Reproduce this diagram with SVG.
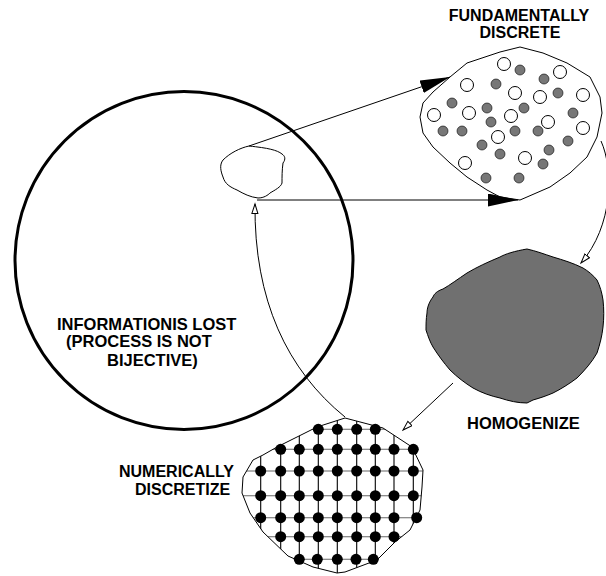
<svg xmlns="http://www.w3.org/2000/svg" width="606" height="576" viewBox="0 0 606 576">
<style>
  .lbl { font-family: "Liberation Sans", Arial, Helvetica, sans-serif; font-weight: bold; font-size: 16px; fill: #000; }
  .outline { fill: none; stroke: #000; stroke-width: 1; stroke-linejoin: round; }
  .conn { fill: none; stroke: #000; stroke-width: 1; }
  .open { fill: #fff; stroke: #000; stroke-width: 1; }
  .gray { fill: #777; stroke: #000; stroke-width: 0.6; }
  .gdot { fill: #000; }
  .vline { stroke: #000; stroke-width: 1.1; }
  .hline { stroke: #666; stroke-width: 1.1; }
</style>
<defs>
  <marker id="bigHead" markerUnits="userSpaceOnUse" markerWidth="30" markerHeight="14" refX="30" refY="6.5" orient="auto">
    <path d="M0,0 L30,6.5 L0,13 Z" fill="#000"/>
  </marker>
  <marker id="openHead" markerUnits="userSpaceOnUse" markerWidth="12" markerHeight="8" refX="10" refY="3.5" orient="auto">
    <path d="M0.5,0.5 L10,3.5 L0.5,6.5 Z" fill="#fff" stroke="#000" stroke-width="1"/>
  </marker>
  <clipPath id="gridClip">
    <path id="gridShape" d="M345,418 L383,428 L412,447 L423,470 L422,487 L420,510 L410,530 L395,542 L377,560 L345,572 L337,573 L313,567 L288,556 L263,532 L250,513 L242,493 L243,477 L253,460 L263,455 L277,447 L297,437 L317,427 Z"/>
  </clipPath>
</defs>

<g id="circle-info-lost">
  <circle cx="184" cy="260.5" r="169" fill="none" stroke="#000" stroke-width="3"/>
  <text class="lbl" style="font-size:16.5px" x="57" y="330">INFORMATIONIS LOST</text>
  <text class="lbl" style="font-size:16.5px" x="66" y="346.5">(PROCESS IS NOT</text>
  <text class="lbl" style="font-size:16.5px" x="107" y="366">BIJECTIVE)</text>
</g>

<g id="small-blob">
  <path class="outline" d="M249,146 C240,148 230,153 223,160 C219,165 221,172 223,177 C225,184 230,187 237,190 C244,194 250,197 258,198 C264,198 268,195 270,193 C275,190 281,187 282,183 C282,177 282,170 283,163 C286,159 285,156 282,154 C277,150 268,148 249,146 Z"/>
</g>

<g id="fundamentally-discrete">
  <text class="lbl" x="519" y="21" text-anchor="middle">FUNDAMENTALLY</text>
  <text class="lbl" x="520" y="37.5" text-anchor="middle">DISCRETE</text>
  <polygon class="outline" points="520,47 500,52 467,63 450,77 433,92 423,103 420,117 423,133 433,147 450,163 467,177 487,190 500,197 520,200 527,197 550,187 570,173 587,157 597,137 602,113 600,97 590,77 567,63 543,53"/>
  <g>
    <circle class="open" cx="504" cy="64" r="6.5"/>
    <circle class="open" cx="560" cy="72" r="6.5"/>
    <circle class="open" cx="467" cy="85" r="6.5"/>
    <circle class="open" cx="515" cy="93" r="6.5"/>
    <circle class="open" cx="540" cy="97" r="6.5"/>
    <circle class="open" cx="583" cy="95" r="6.5"/>
    <circle class="open" cx="434" cy="115" r="6.5"/>
    <circle class="open" cx="469" cy="113" r="6.5"/>
    <circle class="open" cx="511" cy="116" r="6.5"/>
    <circle class="open" cx="548" cy="122" r="6.5"/>
    <circle class="open" cx="583" cy="128" r="6.5"/>
    <circle class="open" cx="498" cy="137" r="6.5"/>
    <circle class="open" cx="465" cy="163" r="6.5"/>
    <circle class="open" cx="525" cy="158" r="6.5"/>
  </g>
  <g>
    <circle class="gray" cx="520" cy="70" r="5"/>
    <circle class="gray" cx="544" cy="79" r="5"/>
    <circle class="gray" cx="496" cy="84" r="5"/>
    <circle class="gray" cx="558" cy="93" r="5"/>
    <circle class="gray" cx="452" cy="103" r="5"/>
    <circle class="gray" cx="487" cy="108" r="5"/>
    <circle class="gray" cx="524" cy="108" r="5"/>
    <circle class="gray" cx="573" cy="113" r="5"/>
    <circle class="gray" cx="491" cy="122" r="5"/>
    <circle class="gray" cx="443" cy="131" r="5"/>
    <circle class="gray" cx="462" cy="131" r="5"/>
    <circle class="gray" cx="515" cy="131" r="5"/>
    <circle class="gray" cx="538" cy="131" r="5"/>
    <circle class="gray" cx="568" cy="141" r="5"/>
    <circle class="gray" cx="482" cy="145" r="5"/>
    <circle class="gray" cx="549" cy="150" r="5"/>
    <circle class="gray" cx="500" cy="154" r="5"/>
    <circle class="gray" cx="543" cy="164" r="5"/>
    <circle class="gray" cx="486" cy="178" r="5"/>
    <circle class="gray" cx="519" cy="178" r="5"/>
  </g>
</g>

<g id="homogenize">
  <path d="M527,249 C515,251 505,254 500,257 C488,262 477,267 467,273 C458,279 450,285 443,289 C437,291 434,294 433,297 C429,302 427,308 427,313 C426,319 426,325 426,330 C428,336 430,342 433,347 C438,355 444,363 450,370 C457,377 465,383 473,388 C482,393 491,396 500,398 C509,401 518,403 527,403 C529,402 531,401 533,400 C540,398 546,396 553,393 C561,389 569,384 577,378 C585,370 592,362 597,353 C600,344 602,336 603,327 C604,318 604,309 603,300 C602,293 600,286 597,280 C593,275 588,271 583,268 C573,263 563,260 553,257 C544,254 536,251 527,249 Z" fill="#707070" stroke="#000" stroke-width="1"/>
  <text class="lbl" style="font-size:16.5px" x="467" y="429">HOMOGENIZE</text>
</g>

<g id="numerically-discretize">
  <text class="lbl" x="119" y="477">NUMERICALLY</text>
  <text class="lbl" x="135" y="495">DISCRETIZE</text>
  <g clip-path="url(#gridClip)">
    <line class="vline" x1="260.7" y1="410" x2="260.7" y2="580"/>
    <line class="vline" x1="280.7" y1="410" x2="280.7" y2="580"/>
    <line class="vline" x1="299.3" y1="410" x2="299.3" y2="580"/>
    <line class="vline" x1="318.3" y1="410" x2="318.3" y2="580"/>
    <line class="vline" x1="337.3" y1="410" x2="337.3" y2="580"/>
    <line class="vline" x1="356.7" y1="410" x2="356.7" y2="580"/>
    <line class="vline" x1="375.3" y1="410" x2="375.3" y2="580"/>
    <line class="vline" x1="394" y1="410" x2="394" y2="580"/>
    <line class="vline" x1="413.3" y1="410" x2="413.3" y2="580"/>
    <line class="hline" x1="230" y1="429.3" x2="430" y2="429.3"/>
    <line class="hline" x1="230" y1="449.3" x2="430" y2="449.3"/>
    <line class="hline" x1="230" y1="471" x2="430" y2="471"/>
    <line class="hline" x1="230" y1="495.7" x2="430" y2="495.7"/>
    <line class="hline" x1="230" y1="517.7" x2="430" y2="517.7"/>
    <line class="hline" x1="230" y1="536.7" x2="430" y2="536.7"/>
    <line class="hline" x1="230" y1="559.3" x2="430" y2="559.3"/>
  </g>
  <use href="#gridShape" class="outline"/>
  <g>
    <circle class="gdot" cx="318.3" cy="429.3" r="5.5"/>
    <circle class="gdot" cx="337.3" cy="429.3" r="5.5"/>
    <circle class="gdot" cx="356.7" cy="429.3" r="5.5"/>
    <circle class="gdot" cx="375.3" cy="429.3" r="5.5"/>

    <circle class="gdot" cx="280.7" cy="449.3" r="5.5"/>
    <circle class="gdot" cx="299.3" cy="449.3" r="5.5"/>
    <circle class="gdot" cx="318.3" cy="449.3" r="5.5"/>
    <circle class="gdot" cx="337.3" cy="449.3" r="5.5"/>
    <circle class="gdot" cx="356.7" cy="449.3" r="5.5"/>
    <circle class="gdot" cx="375.3" cy="449.3" r="5.5"/>
    <circle class="gdot" cx="394" cy="449.3" r="5.5"/>
    <circle class="gdot" cx="413.3" cy="449.3" r="5.5"/>

    <circle class="gdot" cx="260.7" cy="471" r="5.5"/>
    <circle class="gdot" cx="280.7" cy="471" r="5.5"/>
    <circle class="gdot" cx="299.3" cy="471" r="5.5"/>
    <circle class="gdot" cx="318.3" cy="471" r="5.5"/>
    <circle class="gdot" cx="337.3" cy="471" r="5.5"/>
    <circle class="gdot" cx="356.7" cy="471" r="5.5"/>
    <circle class="gdot" cx="375.3" cy="471" r="5.5"/>
    <circle class="gdot" cx="394" cy="471" r="5.5"/>
    <circle class="gdot" cx="413.3" cy="471" r="5.5"/>

    <circle class="gdot" cx="260.7" cy="495.7" r="5.5"/>
    <circle class="gdot" cx="280.7" cy="495.7" r="5.5"/>
    <circle class="gdot" cx="299.3" cy="495.7" r="5.5"/>
    <circle class="gdot" cx="318.3" cy="495.7" r="5.5"/>
    <circle class="gdot" cx="337.3" cy="495.7" r="5.5"/>
    <circle class="gdot" cx="356.7" cy="495.7" r="5.5"/>
    <circle class="gdot" cx="375.3" cy="495.7" r="5.5"/>
    <circle class="gdot" cx="394" cy="495.7" r="5.5"/>
    <circle class="gdot" cx="413.3" cy="495.7" r="5.5"/>

    <circle class="gdot" cx="260.7" cy="517.7" r="5.5"/>
    <circle class="gdot" cx="280.7" cy="517.7" r="5.5"/>
    <circle class="gdot" cx="299.3" cy="517.7" r="5.5"/>
    <circle class="gdot" cx="318.3" cy="517.7" r="5.5"/>
    <circle class="gdot" cx="337.3" cy="517.7" r="5.5"/>
    <circle class="gdot" cx="356.7" cy="517.7" r="5.5"/>
    <circle class="gdot" cx="375.3" cy="517.7" r="5.5"/>
    <circle class="gdot" cx="394" cy="517.7" r="5.5"/>
    <circle class="gdot" cx="416.7" cy="517.7" r="5.5"/>

    <circle class="gdot" cx="280.7" cy="536.7" r="5.5"/>
    <circle class="gdot" cx="299.3" cy="536.7" r="5.5"/>
    <circle class="gdot" cx="318.3" cy="536.7" r="5.5"/>
    <circle class="gdot" cx="337.3" cy="536.7" r="5.5"/>
    <circle class="gdot" cx="356.7" cy="536.7" r="5.5"/>
    <circle class="gdot" cx="375.3" cy="536.7" r="5.5"/>
    <circle class="gdot" cx="394" cy="536.7" r="5.5"/>

    <circle class="gdot" cx="299.3" cy="559.3" r="5.5"/>
    <circle class="gdot" cx="317.3" cy="559.3" r="5.5"/>
    <circle class="gdot" cx="337.3" cy="559.3" r="5.5"/>
    <circle class="gdot" cx="356" cy="559.3" r="5.5"/>
    <circle class="gdot" cx="373.3" cy="559.3" r="5.5"/>
  </g>
</g>

<g id="connectors">
  <line class="conn" x1="249" y1="146" x2="450" y2="77" marker-end="url(#bigHead)"/>
  <line class="conn" x1="257" y1="200" x2="518" y2="200" marker-end="url(#bigHead)"/>
  <path class="conn" d="M601,141 C614,170 613,226 581,263" marker-end="url(#openHead)"/>
  <line class="conn" x1="453" y1="383" x2="403" y2="430" marker-end="url(#openHead)"/>
  <path class="conn" d="M345,417 C287,370 254,300 255,204" marker-end="url(#openHead)"/>
</g>
</svg>
